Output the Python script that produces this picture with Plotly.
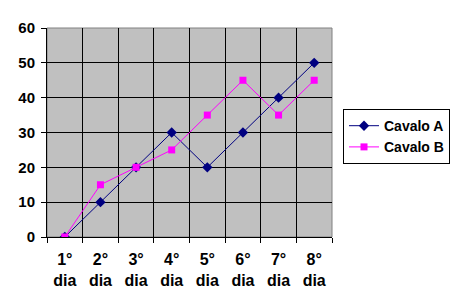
import plotly.graph_objects as go

categories = ["1°<br>dia", "2°<br>dia", "3°<br>dia", "4°<br>dia", "5°<br>dia", "6°<br>dia", "7°<br>dia", "8°<br>dia"]
cavalo_a = [0, 10, 20, 30, 20, 30, 40, 50]
cavalo_b = [0, 15, 20, 25, 35, 45, 35, 45]
y_ticks = [0, 10, 20, 30, 40, 50, 60]

FAM = "Liberation Sans, Arial, sans-serif"

fig = go.Figure()
fig.add_trace(go.Scatter(x=categories, y=cavalo_a, name="Cavalo A", mode="lines+markers",
                         line=dict(color="#000080", width=1),
                         marker=dict(symbol="diamond", size=8, color="#000080")))
fig.add_trace(go.Scatter(x=categories, y=cavalo_b, name="Cavalo B", mode="lines+markers",
                         line=dict(color="#FF00FF", width=1),
                         marker=dict(symbol="square", size=7, color="#FF00FF")))

fig.update_layout(
    width=461, height=308,
    margin=dict(l=47, r=128, t=28, b=71),
    paper_bgcolor="white", plot_bgcolor="#C0C0C0",
    font=dict(family=FAM, size=15, color="black"),
    legend=dict(x=1.035, y=0.612, xanchor="left", yanchor="top",
                bordercolor="black", borderwidth=1, bgcolor="white",
                font=dict(family=FAM, size=14, color="black", weight="bold"),
                tracegroupgap=0, itemwidth=30),
    xaxis=dict(type="category", tickson="boundaries", showgrid=True, gridcolor="black", gridwidth=1,
               ticks="outside", ticklen=5, tickcolor="black", showline=True, linecolor="black",
               tickfont=dict(family=FAM, size=16, color="black", weight="bold"), ticklabelstandoff=8,
               range=[-0.5, 7.5], fixedrange=True),
    yaxis=dict(range=[0, 60], tickvals=y_ticks, showgrid=True, gridcolor="black", gridwidth=1,
               ticks="outside", ticklen=5, tickcolor="black", showline=True, linecolor="black",
               tickfont=dict(family=FAM, size=15, color="black", weight="bold"), ticklabelstandoff=3,
               zeroline=False, fixedrange=True),
    shapes=[dict(type="rect", xref="paper", yref="paper", x0=0, x1=1, y0=0, y1=1,
                 line=dict(color="#808080", width=1), layer="below")],
)

fig.write_html("out.html")
